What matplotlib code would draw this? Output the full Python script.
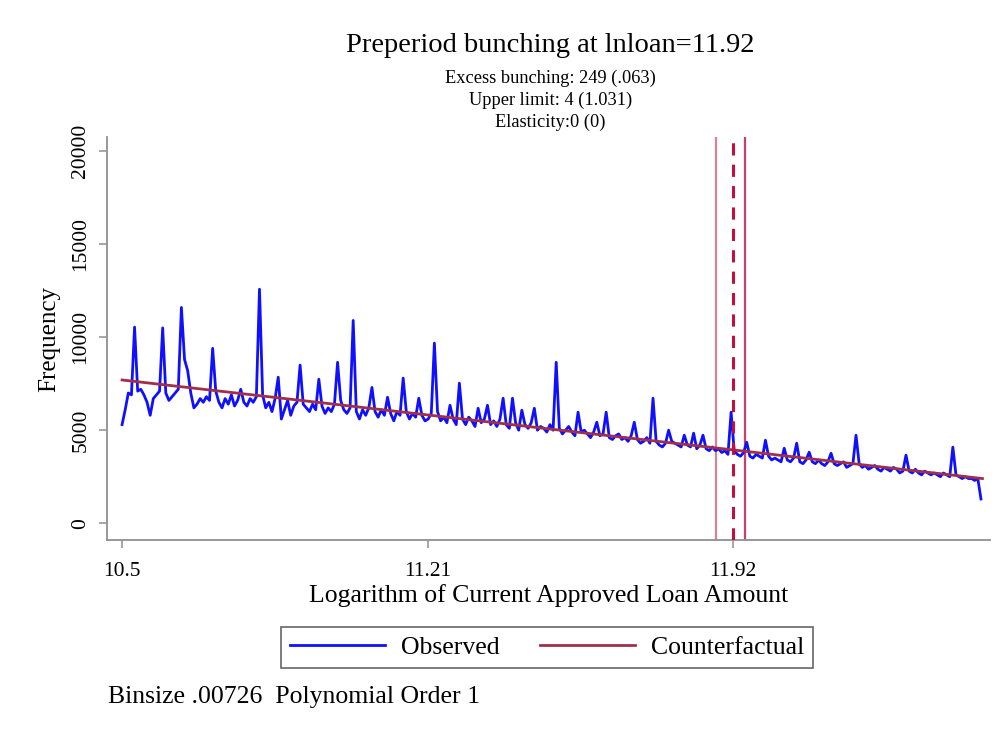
import numpy as np
import matplotlib
matplotlib.use("Agg")
import matplotlib.pyplot as plt

plt.rcParams['font.family'] = ['Liberation Serif', 'DejaVu Serif']

# ---- data ----
bin_start = 10.5
bin_size = 0.00726
observed = [
    5300, 6100, 7000, 6900, 10540, 7100, 7200, 6900, 6500, 5800,
    6700, 6900, 7100, 10500, 7000, 6600, 6800, 7000, 7200, 11600,
    8800, 8200, 7000, 6200, 6400, 6700, 6500, 6800, 6600, 9400,
    7100, 6500, 6200, 6700, 6400, 6900, 6300, 6600, 7200, 6500,
    6300, 6700, 6500, 6800, 12580, 6900, 6200, 6500, 6000, 6700,
    7850, 5600, 6100, 6600, 5800, 6300, 6500, 8500, 6400, 6200,
    6000, 6400, 6100, 7740, 6300, 5900, 6200, 6000, 6400, 8650,
    6600, 6100, 5900, 6200, 10900, 6000, 5600, 6100, 5800, 6200,
    7300, 6000, 5700, 6100, 5800, 6770, 5900, 5500, 6000, 5800,
    7800, 6000, 5600, 5900, 5700, 6720, 5800, 5500, 5600, 5900,
    9680, 6000, 5500, 5700, 5400, 6340, 5600, 5300, 7530, 5600,
    5300, 5700, 5500, 5200, 6180, 5400, 5600, 6340, 5300, 5500,
    5200, 5600, 6720, 5300, 5100, 6720, 5400, 5000, 6075, 5300,
    5100, 5400, 6180, 5000, 5200, 5100, 4900, 5300, 5000, 8650,
    5100, 4800, 5000, 5200, 4900, 4700, 5970, 4900, 5000, 4800,
    4600, 4900, 5430, 4700, 4800, 5970, 4600, 4500, 4700, 4800,
    4500, 4600, 4400, 4700, 5430, 4500, 4300, 4400, 4600, 4300,
    6720, 4400, 4200, 4100, 4300, 5000, 4400, 4300, 4200, 4100,
    4730, 4200, 4100, 4840, 4000, 4200, 4730, 4000, 3900, 4100,
    3900, 4000, 3800, 3900, 3700, 5970, 3900, 3700, 3600, 3800,
    4350, 3600, 3500, 3700, 3600, 3500, 4460, 3600, 3400, 3500,
    3400, 3300, 4030, 3400, 3300, 3500, 4300, 3300, 3200, 3400,
    3820, 3300, 3200, 3400, 3200, 3100, 3300, 3760, 3200, 3100,
    3200, 3300, 3000, 3100, 3200, 4730, 3200, 3000, 3100, 2900,
    3000, 3100, 2900, 2800, 3000, 2900, 2800, 3000, 2900, 2700,
    2800, 3660, 2800, 2700, 2900, 2700, 2600, 2800, 2700, 2600,
    2700, 2600, 2500, 2700, 2600, 2500, 4090, 2600, 2500, 2400,
    2500, 2400, 2400, 2300, 2400, 1300,
]
cf_x = [10.5, 11.0, 11.5, 12.0, 12.5]
cf_y = [7700, 6380, 5050, 3730, 2400]
bunch_point = 11.92
bunch_lower = 11.88
bunch_upper = 11.947
xticks = [10.5, 11.21, 11.92]
xticklabels = ["10.5", "11.21", "11.92"]
yticks = [0, 5000, 10000, 15000, 20000]

x_obs = bin_start + bin_size * np.arange(len(observed))

fig = plt.figure(figsize=(10.02, 7.30), dpi=100)
ax = fig.add_axes([0.1068, 0.260, 0.881, 0.552])

ax.plot(x_obs, observed, color='#1010ff', lw=2.0, label='Observed', zorder=3)
ax.plot(cf_x, cf_y, color='#a0304a', lw=2.0, label='Counterfactual', zorder=4)

ax.axvline(bunch_lower, color='#d9809a', lw=1.6, zorder=2)
ax.axvline(bunch_upper, color='#c8406a', lw=1.6, zorder=2)
ax.axvline(bunch_point, color='#c01040', lw=2.2, ls=(0, (4, 3)), zorder=5)

ax.set_xlim(10.465, 12.517)
ax.set_ylim(-914, 20750)

for s in ['top', 'right']:
    ax.spines[s].set_visible(False)
for s in ['left', 'bottom']:
    ax.spines[s].set_color('#909090')
    ax.spines[s].set_linewidth(1.3)

ax.set_xticks(xticks)
ax.set_xticklabels(xticklabels, fontsize=15.5)
ax.set_yticks(yticks)
ax.set_yticklabels([str(v) for v in yticks], fontsize=15.5, rotation=90, va='center')
ax.tick_params(axis='both', color='#909090', length=6, width=1.1)
ax.tick_params(axis='y', pad=6)
ax.tick_params(axis='x', pad=10)

ax.set_xlabel('Logarithm of Current Approved Loan Amount', fontsize=18.5, labelpad=2)
ax.set_ylabel('Frequency', fontsize=18, labelpad=8)

fig.text(0.549, 0.938, 'Preperiod bunching at lnloan=11.92', ha='center', va='center', fontsize=20.5)
fig.text(0.549, 0.893, 'Excess bunching: 249 (.063)', ha='center', va='center', fontsize=13.2)
fig.text(0.549, 0.863, 'Upper limit: 4 (1.031)', ha='center', va='center', fontsize=13.2)
fig.text(0.549, 0.833, 'Elasticity:0 (0)', ha='center', va='center', fontsize=13.2)

leg = fig.legend(loc='center', bbox_to_anchor=(0.546, 0.1135), ncol=2, fontsize=18.5,
                 frameon=True, fancybox=False, edgecolor='#404040', handlelength=3.7,
                 columnspacing=1.6, borderpad=0.35, handletextpad=0.6)
leg.get_frame().set_linewidth(1.2)

fig.text(0.108, 0.045, 'Binsize .00726  Polynomial Order 1', ha='left', va='center', fontsize=18.5)

fig.savefig('out.png', dpi=100)
